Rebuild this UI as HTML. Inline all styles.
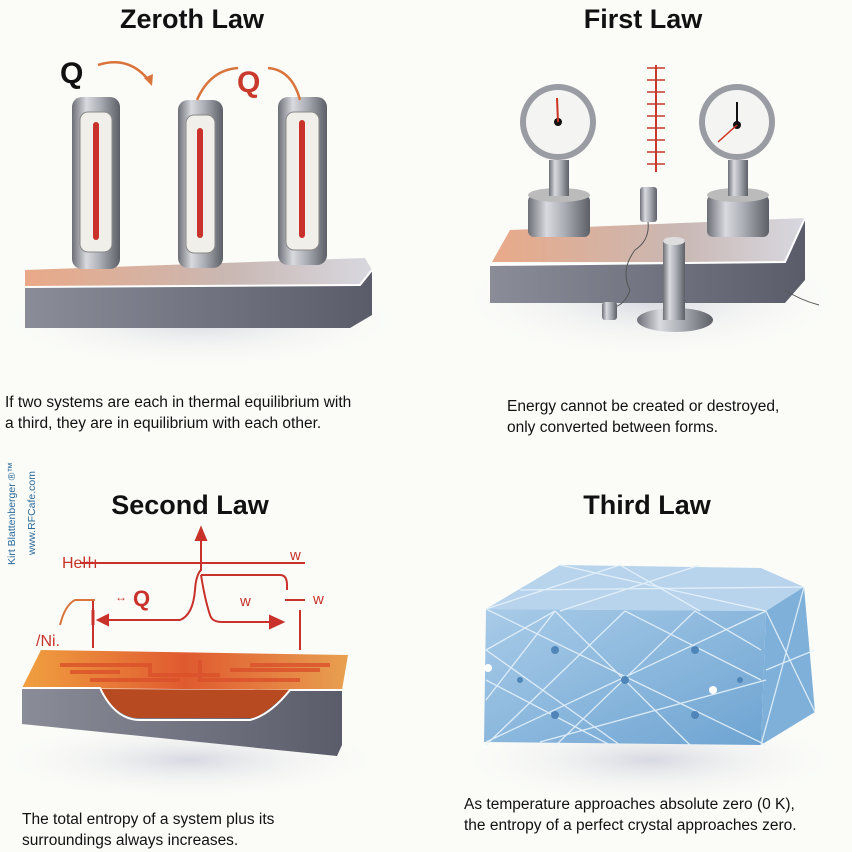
<!DOCTYPE html>
<html><head><meta charset="utf-8"><style>
html,body{margin:0;padding:0;background:#fbfcf8;}
svg{display:block}
text{font-family:"Liberation Sans",sans-serif;}
</style></head><body>
<svg width="852" height="852" viewBox="0 0 852 852" xmlns="http://www.w3.org/2000/svg">
<defs>
<linearGradient id="metal" x1="0" x2="1"><stop offset="0" stop-color="#6d6f77"/><stop offset="0.3" stop-color="#d9dadf"/><stop offset="0.6" stop-color="#a9abb3"/><stop offset="1" stop-color="#5d5f67"/></linearGradient>
<linearGradient id="front" x1="0" x2="1"><stop offset="0" stop-color="#8a8c98"/><stop offset="1" stop-color="#5a5c6a"/></linearGradient>
<linearGradient id="top" x1="0" x2="1"><stop offset="0" stop-color="#e9a988"/><stop offset="0.6" stop-color="#c9b8b4"/><stop offset="1" stop-color="#d8d8e0"/></linearGradient>
<linearGradient id="ice" x1="0" y1="0" x2="1" y2="1"><stop offset="0" stop-color="#a8cbe8"/><stop offset="1" stop-color="#6ea4d2"/></linearGradient>
<linearGradient id="lava" x1="0" x2="1"><stop offset="0" stop-color="#f0a040"/><stop offset="0.5" stop-color="#e05a30"/><stop offset="1" stop-color="#e8a050"/></linearGradient>
<radialGradient id="sh"><stop offset="0" stop-color="#c8cad8" stop-opacity="0.7"/><stop offset="1" stop-color="#fbfcf8" stop-opacity="0"/></radialGradient>
</defs>

<!-- titles -->
<g font-size="27" font-weight="bold" fill="#111" text-anchor="middle">
<text x="192" y="28">Zeroth Law</text>
<text x="643" y="28">First Law</text>
<text x="190" y="514">Second Law</text>
<text x="647" y="514">Third Law</text>
</g>

<!-- ZEROTH -->
<ellipse cx="200" cy="320" rx="210" ry="50" fill="url(#sh)"/>
<polygon points="25,270 365,258 372,270 360,285 25,287" fill="url(#top)"/>
<polygon points="25,287 360,285 372,270 372,315 350,328 25,328" fill="url(#front)"/>
<polyline points="25,287 360,285 372,270" fill="none" stroke="#fff" stroke-width="2"/>
<g>
<rect x="72" y="97" width="48" height="172" rx="10" fill="url(#metal)"/>
<rect x="80" y="112" width="32" height="140" rx="8" fill="#f1efe9" stroke="#888"/>
<rect x="93" y="122" width="6" height="118" rx="3" fill="#c8322a"/>
<rect x="178" y="100" width="45" height="168" rx="10" fill="url(#metal)"/>
<rect x="186" y="115" width="29" height="138" rx="8" fill="#f1efe9" stroke="#888"/>
<rect x="197" y="128" width="6" height="110" rx="3" fill="#c8322a"/>
<rect x="278" y="97" width="49" height="168" rx="10" fill="url(#metal)"/>
<rect x="286" y="112" width="33" height="138" rx="8" fill="#f1efe9" stroke="#888"/>
<rect x="299" y="120" width="6" height="118" rx="3" fill="#c8322a"/>
</g>
<text x="60" y="83" font-size="30" font-weight="bold" fill="#111">Q</text>
<path d="M98,65 Q130,55 150,82" fill="none" stroke="#d9743c" stroke-width="2.5"/>
<polygon points="144,78 152,86 153,74" fill="#d9743c"/>
<path d="M197,100 Q210,70 238,68" fill="none" stroke="#d9743c" stroke-width="2.5"/>
<path d="M268,68 Q292,70 300,100" fill="none" stroke="#d9743c" stroke-width="2.5"/>
<text x="237" y="92" font-size="30" font-weight="bold" fill="#c83a2c">Q</text>
<g font-size="15.5" fill="#111">
<text x="5" y="407">If two systems are each in thermal equilibrium with</text>
<text x="5" y="428">a third, they are in equilibrium with each other.</text>
</g>

<!-- FIRST -->
<ellipse cx="650" cy="300" rx="200" ry="60" fill="url(#sh)"/>
<polygon points="492,262 510,230 805,218 785,262" fill="url(#top)"/>
<polygon points="490,265 785,262 805,218 805,280 785,303 490,303" fill="url(#front)"/>
<polyline points="490,265 785,262 805,218" fill="none" stroke="#fff" stroke-width="2"/>
<path d="M785,290 Q800,300 819,305" fill="none" stroke="#555" stroke-width="1"/>
<!-- gauge stands -->
<rect x="528" y="195" width="62" height="42" rx="6" fill="url(#metal)"/>
<ellipse cx="559" cy="195" rx="31" ry="7" fill="#bbb"/>
<rect x="549" y="160" width="20" height="36" fill="url(#metal)"/>
<circle cx="558" cy="122" r="38" fill="#9a9ca4"/>
<circle cx="558" cy="122" r="32" fill="#f4f4f2"/>
<circle cx="558" cy="122" r="4" fill="#111"/>
<line x1="558" y1="122" x2="557" y2="98" stroke="#c32" stroke-width="2"/>
<rect x="707" y="195" width="62" height="42" rx="6" fill="url(#metal)"/>
<ellipse cx="738" cy="195" rx="31" ry="7" fill="#bbb"/>
<rect x="728" y="160" width="20" height="36" fill="url(#metal)"/>
<circle cx="737" cy="122" r="38" fill="#9a9ca4"/>
<circle cx="737" cy="122" r="32" fill="#f4f4f2"/>
<circle cx="737" cy="125" r="4" fill="#111"/>
<line x1="737" y1="125" x2="737" y2="102" stroke="#111" stroke-width="2"/>
<line x1="737" y1="125" x2="718" y2="142" stroke="#c32" stroke-width="1.5"/>
<!-- ladder -->
<line x1="656" y1="65" x2="656" y2="172" stroke="#c83a2c" stroke-width="2"/>
<g stroke="#c83a2c" stroke-width="1.5">
<line x1="647" y1="68" x2="665" y2="68"/><line x1="647" y1="80" x2="665" y2="80"/><line x1="647" y1="92" x2="665" y2="92"/><line x1="647" y1="104" x2="665" y2="104"/><line x1="647" y1="116" x2="665" y2="116"/><line x1="647" y1="128" x2="665" y2="128"/><line x1="647" y1="140" x2="665" y2="140"/><line x1="647" y1="152" x2="665" y2="152"/><line x1="647" y1="164" x2="665" y2="164"/>
</g>
<rect x="640" y="187" width="17" height="35" rx="3" fill="url(#metal)"/>
<path d="M648,222 Q650,240 635,250 Q620,270 630,290 Q625,305 612,308" fill="none" stroke="#555"/>
<rect x="602" y="302" width="15" height="18" rx="3" fill="url(#metal)"/>
<ellipse cx="675" cy="320" rx="38" ry="12" fill="url(#metal)"/>
<rect x="663" y="240" width="22" height="80" fill="url(#metal)"/>
<ellipse cx="674" cy="241" rx="11" ry="4" fill="#ddd"/>
<g font-size="15.5" fill="#111">
<text x="507" y="411">Energy cannot be created or destroyed,</text>
<text x="507" y="432">only converted between forms.</text>
</g>

<!-- watermark -->
<text transform="translate(15,565) rotate(-90)" font-size="10.5" fill="#2c6a9a">Kirt Blattenberger ®™</text>
<text transform="translate(35,555) rotate(-90)" font-size="10.5" fill="#2c6a9a">www.RFCafe.com</text>

<!-- SECOND -->
<ellipse cx="190" cy="760" rx="200" ry="40" fill="url(#sh)"/>
<polygon points="22,688 41,650 348,655 342,690" fill="url(#lava)"/>
<g stroke="#d9502a" stroke-width="4" fill="none" opacity="0.8">
<path d="M60,665 H150 V675 H220 M90,680 H180 M200,660 V680 H300 M250,665 H330 M70,672 H120 M230,670 H320"/>
</g>
<polygon points="22,688 100,689 120,705 135,715 255,715 270,700 290,690 342,690 342,745 337,756 22,724" fill="url(#front)"/>
<path d="M100,689 Q115,715 135,718 H255 Q270,710 290,690 Z" fill="#b84a22"/>
<path d="M22,688 H100 Q115,720 140,720 H250 Q270,715 290,690 H342" fill="none" stroke="#fff" stroke-width="2"/>
<g stroke="#c8322a" stroke-width="2" fill="none">
<line x1="80" y1="563" x2="305" y2="563"/>
<line x1="201" y1="530" x2="201" y2="563"/>
<polygon points="196,540 206,540 201,528" fill="#c8322a"/>
<path d="M201,563 V570 Q196,575 195,590 Q193,615 180,620 H105"/>
<polygon points="108,615 98,620 108,625" fill="#c8322a"/>
<path d="M201,575 H280 Q287,575 287,585 V590 M201,575 Q205,600 210,615 Q212,622 222,622 H275"/>
<polygon points="270,616 283,622 270,628" fill="#c8322a"/>
<line x1="285" y1="600" x2="305" y2="600"/>
<line x1="300" y1="610" x2="300" y2="650"/>
<line x1="93" y1="600" x2="93" y2="648"/>
<path d="M95,600 H75 Q65,605 60,625" stroke="#d9743c"/>
<line x1="93" y1="610" x2="93" y2="625" stroke-width="3"/>
</g>
<g fill="#c8322a" font-weight="bold">
<text x="62" y="568" font-size="16" font-weight="normal">Heŀŀı</text>
<text x="290" y="560" font-size="15" font-weight="normal">w</text>
<text x="133" y="606" font-size="22">Q</text>
<text x="240" y="606" font-size="15" font-weight="normal">w</text>
<text x="313" y="604" font-size="15" font-weight="normal">w</text>
<text x="36" y="646" font-size="16" font-weight="normal">/Ni.</text>
<text x="115" y="601" font-size="12" font-weight="normal">↔</text>
</g>
<g font-size="15.5" fill="#111">
<text x="22" y="824">The total entropy of a system plus its</text>
<text x="22" y="845">surroundings always increases.</text>
</g>

<!-- THIRD -->
<ellipse cx="650" cy="760" rx="200" ry="45" fill="url(#sh)"/>
<polygon points="486,609 560,565 761,568 804,587 766,611" fill="#b7d4ec"/>
<polygon points="486,609 766,611 761,745 484,742" fill="url(#ice)"/>
<polygon points="766,611 804,587 815,712 761,745" fill="#7fb0da"/>
<g stroke="#e6f1fa" stroke-width="1.3" fill="none" opacity="0.9">
<path d="M486,609 L766,745 M486,680 L610,745 M486,742 L766,611 M555,611 L486,650 M555,611 L690,745 M555,611 L486,700 M625,611 L486,745 M625,611 L761,680 M695,611 L761,650 M695,611 L556,745 M486,650 L620,745 M540,742 L766,680"/>
<path d="M486,609 L620,565 M560,565 L766,611 M620,565 L700,611 M700,565 L560,611 M520,590 L804,587"/>
<path d="M766,611 L815,712 M804,587 L761,745 M766,670 L815,650"/>
</g>
<g fill="#4f85b8">
<circle cx="555" cy="650" r="4"/><circle cx="625" cy="680" r="4"/><circle cx="695" cy="650" r="4"/><circle cx="555" cy="715" r="4"/><circle cx="695" cy="715" r="4"/><circle cx="520" cy="680" r="3"/><circle cx="740" cy="680" r="3"/>
</g>
<circle cx="488" cy="668" r="4" fill="#fff"/>
<circle cx="713" cy="690" r="4" fill="#fff"/>
<g font-size="15.5" fill="#111">
<text x="464" y="809">As temperature approaches absolute zero (0 K),</text>
<text x="464" y="830">the entropy of a perfect crystal approaches zero.</text>
</g>
</svg>
</body></html>
